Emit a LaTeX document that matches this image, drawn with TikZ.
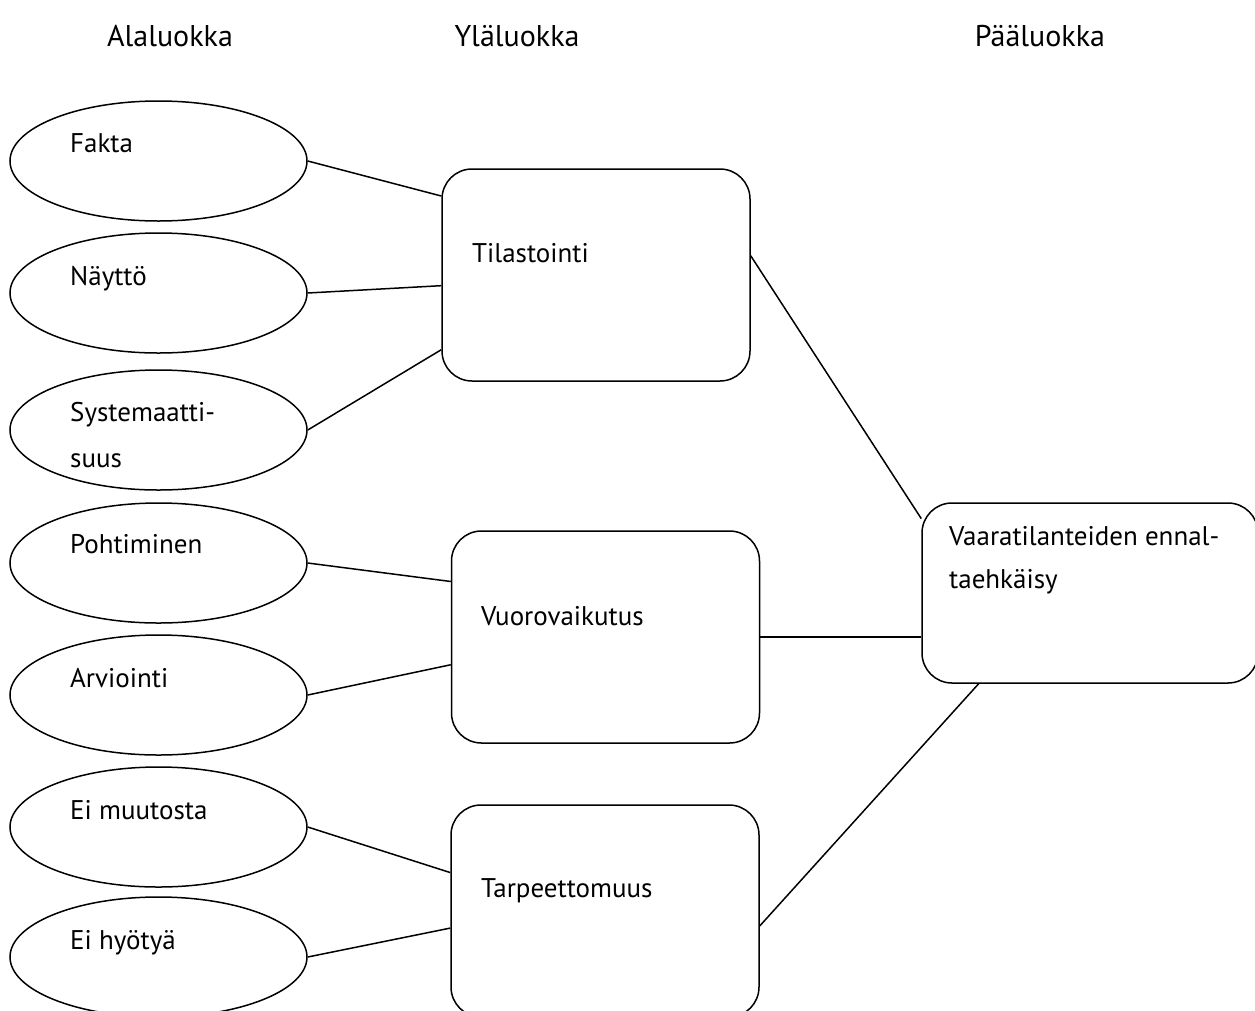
\documentclass[tikz,border=0pt]{standalone}
\usepackage{fontspec}
\setmainfont{PT Sans}
\usetikzlibrary{shapes.geometric,calc}

\tikzset{
  subcat/.style={ellipse, draw, line width=1.5pt, minimum width=297pt, minimum height=120pt, inner sep=0pt},
  uppercat/.style={rectangle, draw, line width=1.5pt, rounded corners=30pt, minimum width=308pt, minimum height=212pt, inner sep=0pt},
  maincat/.style={rectangle, draw, line width=1.5pt, rounded corners=30pt, minimum width=336pt, minimum height=180pt, inner sep=0pt},
  lbl/.style={anchor=base west, inner sep=0pt, align=left, font=\fontsize{27}{46}\selectfont},
  head/.style={anchor=base, inner sep=0pt, font=\fontsize{30}{36}\selectfont},
  link/.style={line width=1.5pt}
}

\begin{document}
\begin{tikzpicture}[x=1pt, y=-1pt]
  \useasboundingbox (0,0) rectangle (1255,1010);

  % otsikot
  \node[head] (halala) at (170,46) {Alaluokka};
  \node[head] (hylaa) at (517,46) {Yläluokka};
  \node[head] (hpaa) at (1040,46) {Pääluokka};

  % alaluokat
  \node[subcat] (fakta) at (158.5,161) {};
  \node[subcat] (naytto) at (158.5,293) {};
  \node[subcat] (syst) at (158.5,430) {};
  \node[subcat] (pohti) at (158.5,563) {};
  \node[subcat] (arvi) at (158.5,695) {};
  \node[subcat] (muutos) at (158.5,827) {};
  \node[subcat] (hyoty) at (158.5,957) {};
  \node[lbl] (faktaT) at (70,152) {Fakta};
  \node[lbl] (nayttoT) at (70,285) {Näyttö};
  \node[lbl] (systT) at (70,467) {Systemaatti-\\suus};
  \node[lbl] (pohtiT) at (70,553) {Pohtiminen};
  \node[lbl] (arviT) at (70,687) {Arviointi};
  \node[lbl] (muutosT) at (70,819) {Ei muutosta};
  \node[lbl] (hyotyT) at (70,949) {Ei hyötyä};

  % yläluokat
  \node[uppercat] (tila) at (596,275) {};
  \node[uppercat] (vuoro) at (605.5,637) {};
  \node[uppercat] (tarpe) at (605,911) {};
  \node[lbl] (tilaT) at (472,262) {Tilastointi};
  \node[lbl] (vuoroT) at (481,625) {Vuorovaikutus};
  \node[lbl] (tarpeT) at (481,897) {Tarpeettomuus};

  % pääluokka
  \node[maincat] (vaara) at (1090,593) {};
  \node[lbl, font=\fontsize{27}{43}\selectfont] (vaaraT) at (949,588) {Vaaratilanteiden ennal-\\taehkäisy};

  % yhteydet
  \draw[link] (fakta.east) -- ($(tila.north west)!0.13!(tila.south west)$);
  \draw[link] (naytto.east) -- ($(tila.north west)!0.55!(tila.south west)$);
  \draw[link] (syst.east) -- ($(tila.north west)!0.85!(tila.south west)$);
  \draw[link] (pohti.east) -- ($(vuoro.north west)!0.24!(vuoro.south west)$);
  \draw[link] (arvi.east) -- ($(vuoro.north west)!0.63!(vuoro.south west)$);
  \draw[link] (muutos.east) -- ($(tarpe.north west)!0.32!(tarpe.south west)$);
  \draw[link] (hyoty.east) -- ($(tarpe.north west)!0.58!(tarpe.south west)$);
  \draw[link] ($(tila.north east)!0.41!(tila.south east)$) -- ($(vaara.north west)!0.09!(vaara.south west)$);
  \draw[link] (vuoro.east) -- (vuoro.east -| vaara.west);
  \draw[link] ($(tarpe.north east)!0.57!(tarpe.south east)$) -- ($(vaara.south west)!0.17!(vaara.south east)$);
\end{tikzpicture}
\end{document}
